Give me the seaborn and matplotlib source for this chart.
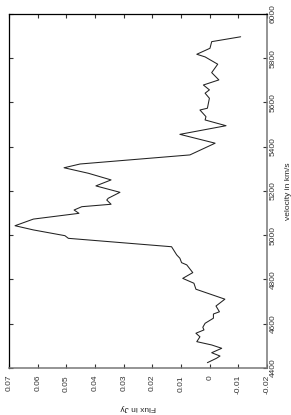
import matplotlib
matplotlib.use("Agg")
import matplotlib.pyplot as plt
import pandas as pd
import seaborn as sns

# spectrum (velocity in km/s, flux in Jy)
velocity = [
    5897, 5875, 5845, 5818, 5806, 5773, 5735, 5702, 5679, 5657, 5642, 5619,
    5574, 5566, 5536, 5521, 5495, 5456, 5416, 5363, 5322, 5305, 5280, 5250,
    5223, 5194, 5167, 5159, 5140, 5129, 5114, 5099, 5073, 5043, 5024, 4998,
    4986, 4948, 4911, 4896, 4876, 4866, 4831, 4805, 4783, 4756, 4711, 4680,
    4654, 4644, 4625, 4602, 4584, 4572, 4557, 4541, 4519, 4504, 4489, 4469,
    4454, 4444, 4424,
]
flux = [
    -0.0108, -0.0007, -0.0001, 0.0045, 0.0016, -0.0028, -0.0007, -0.0032,
    0.0022, 0.0001, 0.0016, 0.0001, 0.0008, 0.0034, 0.0013, 0.0016, -0.0057,
    0.0104, -0.0019, 0.0069, 0.0452, 0.0508, 0.0423, 0.0344, 0.0397, 0.0313,
    0.0354, 0.0359, 0.0344, 0.0446, 0.0473, 0.0456, 0.0615, 0.0679, 0.0615,
    0.0505, 0.0493, 0.0133, 0.0115, 0.0104, 0.0098, 0.0080, 0.0059, 0.0094,
    0.0055, 0.0048, -0.0053, -0.0022, -0.0034, -0.0013, -0.0013, 0.0016,
    0.0024, 0.0020, 0.0048, 0.0034, 0.0045, -0.0007, -0.0042, -0.0007,
    -0.0036, -0.0024, 0.0008,
]
flux_ticks = [0.07, 0.06, 0.05, 0.04, 0.03, 0.02, 0.01, 0.0, -0.01, -0.02]
flux_labels = ["0.07", "0.06", "0.05", "0.04", "0.03", "0.02", "0.01", "0", "-0.01", "-0.02"]
velocity_ticks = [4400, 4600, 4800, 5000, 5200, 5400, 5600, 5800, 6000]

sns.set_style("white")
plt.rcParams["font.family"] = ["Liberation Sans", "DejaVu Sans"]

df = pd.DataFrame({"velocity": velocity, "flux": flux})

fig = plt.figure(figsize=(2.91, 4.15), dpi=100)
ax = fig.add_axes([0.031, 0.1133, 0.8866, 0.853])

sns.lineplot(data=df, x="flux", y="velocity", sort=False, estimator=None,
             orient="y", color="#222222", linewidth=0.75, ax=ax)

ax.set_xlim(0.07, -0.02)
ax.set_ylim(4400, 6000)
ax.set_xticks(flux_ticks)
ax.set_xticklabels(flux_labels, rotation=90, va="top", ha="center")
ax.set_yticks(velocity_ticks)
ax.yaxis.tick_right()
ax.yaxis.set_label_position("right")
ax.set_yticklabels([str(v) for v in velocity_ticks], rotation=90, va="center", ha="left")

ax.tick_params(axis="both", which="both", direction="in", length=3, width=0.8,
               top=True, bottom=True, left=True, right=True,
               labelleft=False, labelright=True, labelsize=6, colors="#333333")
ax.tick_params(axis="x", pad=5)
ax.tick_params(axis="y", pad=2)

ax.set_xlabel("Flux in Jy", rotation=180, fontsize=6, labelpad=7)
ax.set_ylabel("velocity in km/s", rotation=90, fontsize=6, labelpad=6)

for side in ["top", "left"]:
    ax.spines[side].set_color("black")
    ax.spines[side].set_linewidth(0.9)
for side in ["bottom", "right"]:
    ax.spines[side].set_color("#777777")
    ax.spines[side].set_linewidth(1.1)

fig.savefig("out.png", dpi=100)
